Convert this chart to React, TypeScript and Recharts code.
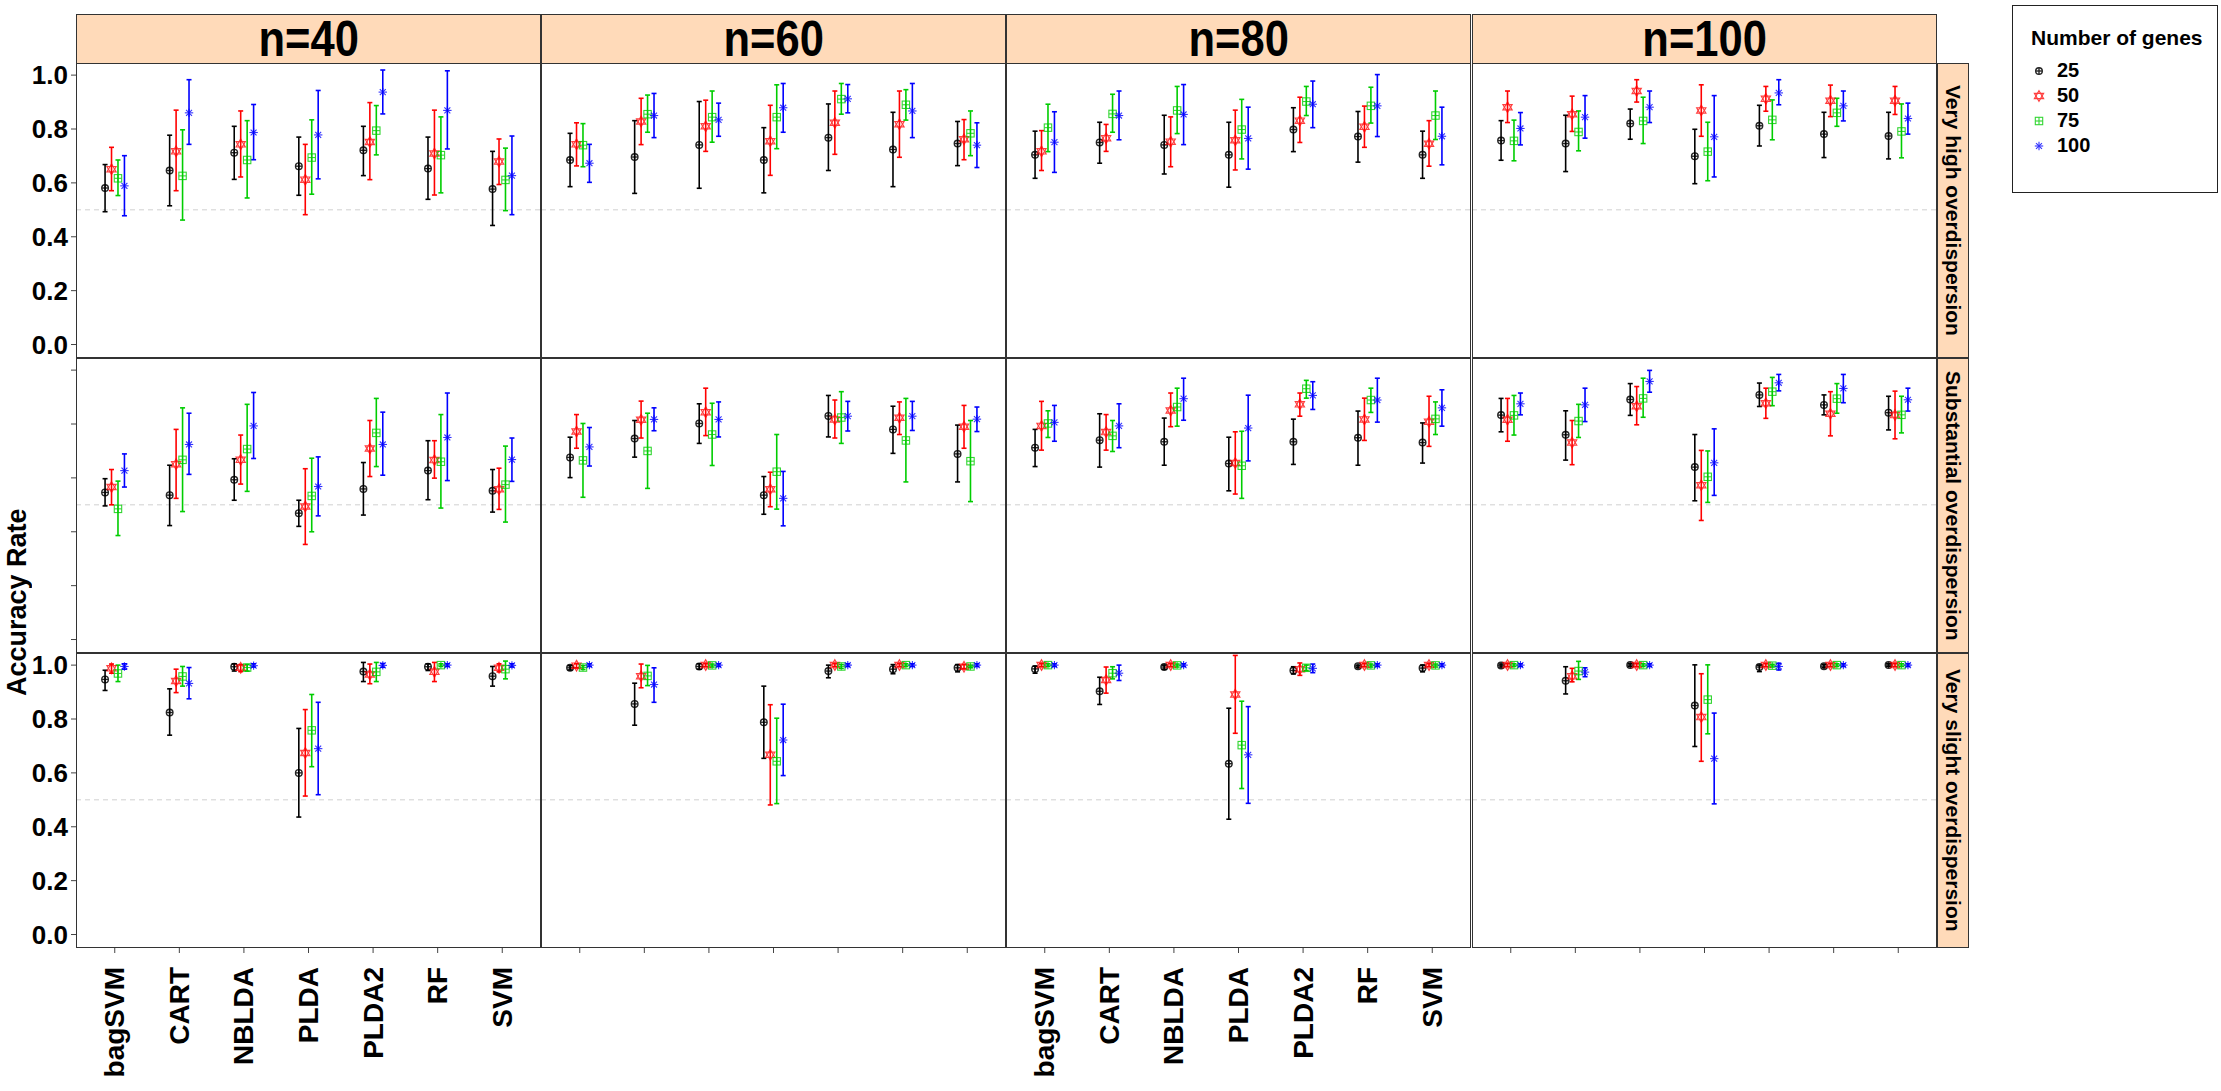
import { ScatterChart, Scatter, XAxis, YAxis, ErrorBar, ReferenceLine } from 'recharts';

type Triple = [number, number, number]; // mean, lower, upper

const methods = ['bagSVM', 'CART', 'NBLDA', 'PLDA', 'PLDA2', 'RF', 'SVM'];
const sampleSizes = ['n=40', 'n=60', 'n=80', 'n=100'];
const dispersionLevels = ['Very high overdispersion', 'Substantial overdispersion', 'Very slight overdispersion'];
const geneCounts = ['25', '50', '75', '100'];
const yTicks = [0, 0.2, 0.4, 0.6, 0.8, 1.0];
const xTicks = [1, 2, 3, 4, 5, 6, 7];

// very high overdispersion, one array per number of genes (25, 50, 75, 100)
const veryHigh40: Triple[][] = [
  [[0.581, 0.493, 0.668], [0.646, 0.515, 0.777], [0.712, 0.613, 0.81], [0.662, 0.554, 0.77], [0.721, 0.627, 0.81], [0.653, 0.539, 0.77], [0.577, 0.442, 0.717]],
  [[0.651, 0.571, 0.732], [0.717, 0.571, 0.87], [0.743, 0.622, 0.867], [0.612, 0.482, 0.743], [0.752, 0.612, 0.898], [0.709, 0.555, 0.87], [0.679, 0.594, 0.763]],
  [[0.617, 0.553, 0.685], [0.626, 0.462, 0.797], [0.685, 0.544, 0.831], [0.694, 0.558, 0.834], [0.794, 0.704, 0.887], [0.703, 0.563, 0.845], [0.611, 0.497, 0.729]],
  [[0.589, 0.478, 0.701], [0.86, 0.743, 0.983], [0.787, 0.686, 0.891], [0.778, 0.615, 0.943], [0.937, 0.856, 1.019], [0.869, 0.726, 1.016], [0.627, 0.482, 0.774]],
];
const veryHigh60: Triple[][] = [
  [[0.685, 0.586, 0.784], [0.696, 0.561, 0.831], [0.741, 0.58, 0.902], [0.685, 0.563, 0.805], [0.768, 0.646, 0.893], [0.724, 0.586, 0.862], [0.746, 0.664, 0.828]],
  [[0.743, 0.663, 0.823], [0.828, 0.742, 0.914], [0.81, 0.717, 0.907], [0.755, 0.628, 0.888], [0.823, 0.706, 0.941], [0.818, 0.695, 0.941], [0.762, 0.686, 0.835]],
  [[0.74, 0.66, 0.82], [0.855, 0.788, 0.926], [0.844, 0.751, 0.941], [0.844, 0.727, 0.964], [0.911, 0.855, 0.969], [0.89, 0.833, 0.946], [0.784, 0.701, 0.867]],
  [[0.673, 0.602, 0.743], [0.85, 0.768, 0.932], [0.834, 0.773, 0.896], [0.879, 0.788, 0.969], [0.912, 0.86, 0.965], [0.867, 0.768, 0.969], [0.74, 0.657, 0.823]],
];
const veryHigh80: Triple[][] = [
  [[0.704, 0.617, 0.792], [0.75, 0.673, 0.825], [0.741, 0.633, 0.851], [0.704, 0.584, 0.825], [0.798, 0.716, 0.879], [0.772, 0.677, 0.865], [0.704, 0.617, 0.792]],
  [[0.717, 0.646, 0.794], [0.766, 0.717, 0.817], [0.753, 0.66, 0.845], [0.758, 0.648, 0.87], [0.831, 0.75, 0.918], [0.808, 0.732, 0.885], [0.745, 0.662, 0.831]],
  [[0.805, 0.716, 0.892], [0.856, 0.788, 0.929], [0.869, 0.783, 0.958], [0.798, 0.689, 0.91], [0.902, 0.85, 0.958], [0.886, 0.822, 0.955], [0.85, 0.761, 0.941]],
  [[0.751, 0.639, 0.864], [0.85, 0.76, 0.941], [0.854, 0.742, 0.965], [0.765, 0.651, 0.881], [0.892, 0.805, 0.978], [0.886, 0.772, 1.002], [0.773, 0.667, 0.881]],
];
const veryHigh100: Triple[][] = [
  [[0.757, 0.684, 0.831], [0.746, 0.642, 0.851], [0.82, 0.762, 0.874], [0.699, 0.597, 0.799], [0.812, 0.737, 0.888], [0.781, 0.694, 0.862], [0.774, 0.689, 0.862]],
  [[0.881, 0.824, 0.941], [0.855, 0.791, 0.922], [0.941, 0.9, 0.983], [0.869, 0.773, 0.964], [0.912, 0.866, 0.958], [0.905, 0.846, 0.963], [0.905, 0.854, 0.958]],
  [[0.756, 0.682, 0.833], [0.789, 0.719, 0.867], [0.83, 0.746, 0.918], [0.716, 0.608, 0.825], [0.834, 0.76, 0.908], [0.86, 0.81, 0.914], [0.791, 0.693, 0.893]],
  [[0.802, 0.741, 0.861], [0.844, 0.766, 0.924], [0.881, 0.824, 0.941], [0.771, 0.622, 0.924], [0.934, 0.89, 0.983], [0.886, 0.83, 0.941], [0.839, 0.781, 0.896]],
];

// substantial overdispersion
const substantial40: Triple[][] = [
  [[0.546, 0.496, 0.597], [0.536, 0.423, 0.647], [0.593, 0.517, 0.671], [0.469, 0.42, 0.517], [0.559, 0.462, 0.657], [0.627, 0.519, 0.738], [0.552, 0.473, 0.631]],
  [[0.566, 0.5, 0.631], [0.651, 0.524, 0.78], [0.667, 0.577, 0.759], [0.494, 0.353, 0.634], [0.709, 0.605, 0.813], [0.666, 0.599, 0.738], [0.558, 0.483, 0.636]],
  [[0.485, 0.386, 0.588], [0.667, 0.475, 0.86], [0.707, 0.55, 0.873], [0.533, 0.4, 0.673], [0.767, 0.642, 0.895], [0.66, 0.488, 0.835], [0.575, 0.436, 0.718]],
  [[0.627, 0.566, 0.689], [0.724, 0.613, 0.84], [0.793, 0.672, 0.917], [0.568, 0.459, 0.678], [0.724, 0.61, 0.844], [0.75, 0.59, 0.915], [0.668, 0.587, 0.748]],
];
const substantial60: Triple[][] = [
  [[0.676, 0.601, 0.751], [0.746, 0.677, 0.813], [0.802, 0.728, 0.875], [0.536, 0.465, 0.605], [0.83, 0.752, 0.906], [0.78, 0.691, 0.866], [0.689, 0.585, 0.796]],
  [[0.772, 0.71, 0.835], [0.816, 0.748, 0.885], [0.844, 0.757, 0.933], [0.558, 0.493, 0.621], [0.817, 0.748, 0.889], [0.823, 0.761, 0.882], [0.79, 0.71, 0.869]],
  [[0.665, 0.528, 0.802], [0.7, 0.561, 0.84], [0.761, 0.646, 0.877], [0.623, 0.484, 0.761], [0.824, 0.728, 0.92], [0.739, 0.585, 0.895], [0.662, 0.512, 0.813]],
  [[0.715, 0.644, 0.787], [0.817, 0.775, 0.86], [0.817, 0.752, 0.882], [0.524, 0.422, 0.624], [0.829, 0.774, 0.884], [0.829, 0.776, 0.884], [0.818, 0.772, 0.863]],
];
const substantial80: Triple[][] = [
  [[0.712, 0.642, 0.78], [0.74, 0.64, 0.838], [0.734, 0.647, 0.822], [0.653, 0.552, 0.751], [0.734, 0.65, 0.818], [0.749, 0.647, 0.848], [0.731, 0.655, 0.804]],
  [[0.793, 0.703, 0.884], [0.77, 0.703, 0.835], [0.85, 0.79, 0.915], [0.655, 0.54, 0.771], [0.873, 0.829, 0.915], [0.817, 0.739, 0.896], [0.808, 0.717, 0.903]],
  [[0.802, 0.75, 0.849], [0.756, 0.698, 0.813], [0.863, 0.792, 0.933], [0.645, 0.524, 0.773], [0.931, 0.896, 0.962], [0.889, 0.843, 0.933], [0.819, 0.761, 0.882]],
  [[0.806, 0.736, 0.869], [0.793, 0.712, 0.875], [0.894, 0.814, 0.97], [0.785, 0.663, 0.907], [0.906, 0.854, 0.957], [0.889, 0.807, 0.97], [0.86, 0.792, 0.927]],
];
const substantial100: Triple[][] = [
  [[0.833, 0.771, 0.895], [0.76, 0.666, 0.849], [0.891, 0.832, 0.95], [0.64, 0.515, 0.761], [0.908, 0.865, 0.952], [0.871, 0.834, 0.908], [0.842, 0.778, 0.903]],
  [[0.816, 0.736, 0.895], [0.731, 0.649, 0.813], [0.866, 0.797, 0.939], [0.573, 0.442, 0.702], [0.877, 0.821, 0.933], [0.838, 0.756, 0.92], [0.833, 0.745, 0.922]],
  [[0.832, 0.759, 0.906], [0.811, 0.75, 0.873], [0.895, 0.825, 0.97], [0.604, 0.509, 0.7], [0.92, 0.868, 0.973], [0.894, 0.84, 0.95], [0.834, 0.767, 0.903]],
  [[0.875, 0.834, 0.915], [0.871, 0.809, 0.933], [0.958, 0.918, 0.999], [0.656, 0.535, 0.782], [0.953, 0.923, 0.984], [0.932, 0.879, 0.984], [0.89, 0.848, 0.933]],
];

// very slight overdispersion
const slight40: Triple[][] = [
  [[0.947, 0.906, 0.981], [0.824, 0.74, 0.912], [0.994, 0.978, 1.005], [0.6, 0.436, 0.765], [0.976, 0.939, 1.01], [0.994, 0.98, 1.005], [0.959, 0.922, 0.995]],
  [[0.988, 0.97, 1.004], [0.941, 0.898, 0.985], [0.99, 0.976, 1.002], [0.674, 0.514, 0.835], [0.965, 0.931, 1.004], [0.975, 0.939, 1.01], [0.99, 0.975, 1.005]],
  [[0.969, 0.939, 1.0], [0.958, 0.922, 0.995], [0.991, 0.978, 1.002], [0.758, 0.623, 0.891], [0.975, 0.939, 1.01], [1.0, 0.995, 1.005], [0.985, 0.949, 1.015]],
  [[0.995, 0.985, 1.005], [0.932, 0.875, 0.991], [0.998, 0.993, 1.005], [0.69, 0.519, 0.862], [0.999, 0.992, 1.006], [1.0, 0.995, 1.005], [0.999, 0.993, 1.005]],
];
const slight60: Triple[][] = [
  [[0.99, 0.982, 0.998], [0.856, 0.777, 0.933], [0.995, 0.985, 1.005], [0.788, 0.654, 0.922], [0.978, 0.953, 1.0], [0.985, 0.968, 1.002], [0.99, 0.975, 1.002]],
  [[0.998, 0.99, 1.005], [0.959, 0.916, 1.004], [1.0, 0.995, 1.005], [0.667, 0.481, 0.853], [1.0, 0.995, 1.005], [1.0, 0.995, 1.005], [0.994, 0.987, 1.002]],
  [[0.991, 0.984, 0.998], [0.96, 0.924, 0.999], [0.999, 0.993, 1.004], [0.643, 0.486, 0.803], [0.995, 0.988, 1.002], [1.0, 0.995, 1.005], [0.995, 0.99, 1.0]],
  [[1.0, 0.995, 1.005], [0.928, 0.862, 0.99], [1.0, 0.995, 1.005], [0.722, 0.59, 0.855], [1.0, 0.995, 1.005], [1.0, 0.995, 1.005], [1.0, 0.995, 1.005]],
];
const slight80: Triple[][] = [
  [[0.986, 0.97, 0.996], [0.903, 0.854, 0.955], [0.993, 0.985, 1.0], [0.634, 0.428, 0.84], [0.98, 0.967, 0.994], [0.996, 0.99, 1.0], [0.989, 0.975, 1.0]],
  [[1.0, 0.995, 1.005], [0.945, 0.896, 0.993], [1.0, 0.995, 1.005], [0.891, 0.747, 1.036], [0.985, 0.962, 1.008], [1.0, 0.995, 1.005], [1.0, 0.995, 1.005]],
  [[1.0, 0.995, 1.005], [0.97, 0.949, 0.994], [0.999, 0.993, 1.004], [0.703, 0.542, 0.866], [0.99, 0.98, 1.0], [0.999, 0.993, 1.004], [0.999, 0.993, 1.004]],
  [[1.0, 0.995, 1.005], [0.97, 0.943, 1.0], [1.0, 0.995, 1.005], [0.667, 0.487, 0.846], [0.988, 0.972, 1.004], [1.0, 0.995, 1.005], [1.0, 0.995, 1.005]],
];
const slight100: Triple[][] = [
  [[0.999, 0.993, 1.004], [0.942, 0.893, 0.994], [1.0, 0.995, 1.005], [0.85, 0.698, 1.001], [0.993, 0.976, 1.0], [0.996, 0.99, 1.002], [1.0, 0.995, 1.005]],
  [[1.0, 0.995, 1.005], [0.959, 0.938, 0.988], [1.0, 0.995, 1.005], [0.807, 0.643, 0.968], [1.0, 0.995, 1.005], [1.0, 0.995, 1.005], [1.0, 0.995, 1.005]],
  [[1.0, 0.995, 1.005], [0.978, 0.947, 1.014], [1.0, 0.995, 1.005], [0.872, 0.745, 1.001], [0.998, 0.993, 1.003], [1.0, 0.995, 1.005], [1.0, 0.995, 1.005]],
  [[1.0, 0.995, 1.005], [0.974, 0.957, 0.99], [1.0, 0.995, 1.005], [0.653, 0.485, 0.822], [0.995, 0.982, 1.007], [1.0, 0.995, 1.005], [1.0, 0.995, 1.005]],
];

const panelValues = [
  [veryHigh40, veryHigh60, veryHigh80, veryHigh100],
  [substantial40, substantial60, substantial80, substantial100],
  [slight40, slight60, slight80, slight100],
];

const seriesColors = ['#000000', '#FF0000', '#00CD00', '#0000FF'];
const dodge = [-0.15, -0.05, 0.05, 0.15];

const FONT = '"Liberation Sans", Arial, sans-serif';
const COL_X = [76, 541, 1006, 1472];
const ROW_Y = [63, 358, 653];
const PW = 465;
const PH = 295;
const PAD = 18; // room above/below the plot so tick labels are not clipped
const STRIP_BG = '#FFDAB9';

function buildSeries(vals: Triple[], s: number) {
  return vals.map(([m, lo, hi], i) => ({ x: i + 1 + dodge[s], y: m, err: [m - lo, hi - m] }));
}

function Marker({ cx, cy, kind }: { cx: number; cy: number; kind: number }) {
  const c = seriesColors[kind];
  if (cx == null || cy == null) return null;
  if (kind === 0) {
    return (
      <g stroke={c} fill="none" strokeWidth={1.4} opacity={0.85}>
        <circle cx={cx} cy={cy} r={3.3} />
        <line x1={cx - 3.3} x2={cx + 3.3} y1={cy} y2={cy} />
        <line x1={cx} x2={cx} y1={cy - 3.3} y2={cy + 3.3} />
      </g>
    );
  }
  if (kind === 1) {
    const r = 5.3;
    const a = r * 0.866;
    return (
      <g stroke={c} fill="none" strokeWidth={1.2} opacity={0.75}>
        <polygon points={`${cx},${cy - r} ${cx + a},${cy + r / 2} ${cx - a},${cy + r / 2}`} />
        <polygon points={`${cx},${cy + r} ${cx + a},${cy - r / 2} ${cx - a},${cy - r / 2}`} />
      </g>
    );
  }
  if (kind === 2) {
    const h = 3.7;
    return (
      <g stroke={c} fill="none" strokeWidth={1.1} opacity={0.8}>
        <rect x={cx - h} y={cy - h} width={2 * h} height={2 * h} />
        <line x1={cx - h} x2={cx + h} y1={cy} y2={cy} />
        <line x1={cx} x2={cx} y1={cy - h} y2={cy + h} />
      </g>
    );
  }
  const r = 4.2;
  const d = r * 0.707;
  return (
    <g stroke={c} fill="none" strokeWidth={1.1} opacity={0.8}>
      <line x1={cx - r} x2={cx + r} y1={cy} y2={cy} />
      <line x1={cx} x2={cx} y1={cy - r} y2={cy + r} />
      <line x1={cx - d} x2={cx + d} y1={cy - d} y2={cy + d} />
      <line x1={cx - d} x2={cx + d} y1={cy + d} y2={cy - d} />
    </g>
  );
}

function XTick(props: any) {
  const { x, y, payload, show } = props;
  if (!show) return <g />;
  return (
    <text
      x={x}
      y={y}
      transform={`rotate(-90, ${x}, ${y})`}
      textAnchor="end"
      dominantBaseline="central"
      fontSize={28}
      fontWeight="bold"
      fontFamily={FONT}
      fill="#000"
    >
      {methods[payload.value - 1]}
    </text>
  );
}

function YTick(props: any) {
  const { x, y, payload, show } = props;
  if (!show) return <g />;
  return (
    <text x={x} y={y} textAnchor="end" dominantBaseline="central" fontSize={26} fontWeight="bold" fontFamily={FONT} fill="#000">
      {payload.value.toFixed(1)}
    </text>
  );
}

function Panel({ row, col }: { row: number; col: number }) {
  const values = panelValues[row][col];
  const showY = col === 0;
  const showX = row === 2;
  const xLabels = showX && (col === 0 || col === 2);
  const yLabels = showY && row !== 1;
  const yw = showY ? 76 : 0;
  const xh = showX ? (xLabels ? 138 : 8) : 0;
  const bottomPad = showX ? 0 : PAD;
  const h = PAD + PH + xh + bottomPad;
  return (
    <div style={{ position: 'absolute', left: COL_X[col] - yw, top: ROW_Y[row] - PAD, width: PW + yw, height: h }}>
      <ScatterChart width={PW + yw} height={h} margin={{ top: PAD, right: 0, bottom: bottomPad, left: 0 }}>
        <XAxis
          type="number"
          dataKey="x"
          domain={[0.4, 7.6]}
          ticks={xTicks}
          interval={0}
          allowDataOverflow
          hide={!showX}
          height={xh}
          axisLine={false}
          tickSize={5}
          tickMargin={14}
          tickLine={{ stroke: '#444' }}
          tick={<XTick show={xLabels} />}
        />
        <YAxis
          type="number"
          dataKey="y"
          domain={[-0.05, 1.045]}
          ticks={yTicks}
          interval={0}
          allowDataOverflow
          hide={!showY}
          width={yw}
          axisLine={false}
          tickSize={5}
          tickMargin={3}
          tickLine={{ stroke: '#444' }}
          tick={<YTick show={yLabels} />}
        />
        <ReferenceLine y={0.5} stroke="#d0d0d0" strokeDasharray="5 4" />
        {geneCounts.map((g, s) => (
          <Scatter
            key={g}
            name={g}
            data={buildSeries(values[s], s)}
            isAnimationActive={false}
            shape={(p: any) => <Marker cx={p.cx} cy={p.cy} kind={s} />}
          >
            <ErrorBar dataKey="err" direction="y" width={2.5} stroke={seriesColors[s]} strokeWidth={1.6} />
          </Scatter>
        ))}
      </ScatterChart>
      <div
        style={{
          position: 'absolute',
          left: yw,
          top: PAD,
          width: PW,
          height: PH,
          border: '1px solid #333',
          boxSizing: 'border-box',
          pointerEvents: 'none',
        }}
      />
    </div>
  );
}

function LegendSymbol({ kind }: { kind: number }) {
  return (
    <svg width={16} height={16} style={{ display: 'block' }}>
      <Marker cx={8} cy={8} kind={kind} />
    </svg>
  );
}

export default function App() {
  return (
    <div style={{ position: 'absolute', left: 0, top: 0, width: 2221, height: 1091, background: '#fff', fontFamily: FONT, overflow: 'hidden' }}>
      {sampleSizes.map((n, c) => (
        <div
          key={n}
          style={{
            position: 'absolute',
            left: COL_X[c],
            top: 14,
            width: PW,
            height: 50,
            background: STRIP_BG,
            border: '1px solid #333',
            boxSizing: 'border-box',
            display: 'flex',
            alignItems: 'center',
            justifyContent: 'center',
            color: '#000',
          }}
        >
          <span style={{ display: 'inline-block', fontSize: 50, fontWeight: 'bold', lineHeight: 1, transform: 'scaleX(0.87)' }}>{n}</span>
        </div>
      ))}
      {dispersionLevels.map((d, r) => (
        <div
          key={d}
          style={{
            position: 'absolute',
            left: 1937,
            top: ROW_Y[r],
            width: 32,
            height: PH,
            background: STRIP_BG,
            border: '1px solid #333',
            boxSizing: 'border-box',
            display: 'flex',
            alignItems: 'center',
            justifyContent: 'center',
            writingMode: 'vertical-rl',
            fontSize: 21,
            fontWeight: 'bold',
            color: '#000',
          }}
        >
          {d}
        </div>
      ))}
      {panelValues.map((rowVals, r) => rowVals.map((_, c) => <Panel key={`${r}-${c}`} row={r} col={c} />))}
      <div
        style={{
          position: 'absolute',
          left: 0,
          top: 602 - 100,
          width: 34,
          height: 200,
          display: 'flex',
          alignItems: 'center',
          justifyContent: 'center',
          writingMode: 'vertical-rl',
          transform: 'rotate(180deg)',
          fontSize: 27,
          fontWeight: 'bold',
          color: '#000',
        }}
      >
        Accuracy Rate
      </div>
      <div
        style={{
          position: 'absolute',
          left: 2012,
          top: 5,
          width: 206,
          height: 188,
          border: '1px solid #222',
          boxSizing: 'border-box',
          padding: '20px 0 0 18px',
        }}
      >
        <div style={{ fontSize: 21, fontWeight: 'bold', marginBottom: 8 }}>Number of genes</div>
        {geneCounts.map((g, s) => (
          <div key={g} style={{ display: 'flex', alignItems: 'center', height: 25 }}>
            <LegendSymbol kind={s} />
            <span style={{ marginLeft: 10, fontSize: 20, fontWeight: 'bold' }}>{g}</span>
          </div>
        ))}
      </div>
    </div>
  );
}
